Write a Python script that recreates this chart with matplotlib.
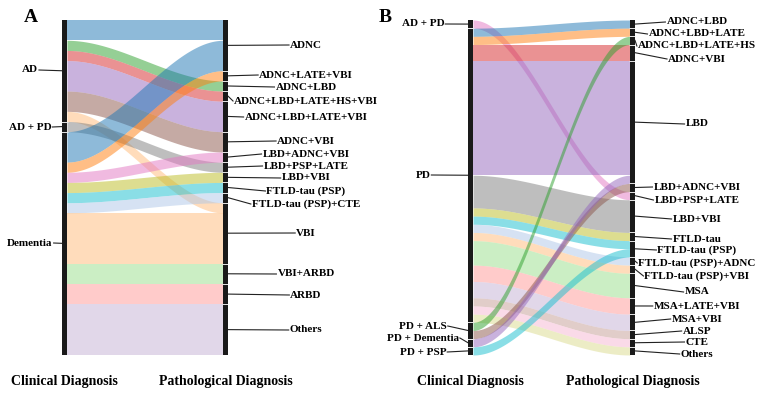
import numpy as np
import matplotlib.pyplot as plt
from matplotlib.patches import Rectangle

plt.rcParams['font.family'] = ['Liberation Serif', 'DejaVu Serif']
plt.rcParams['font.weight'] = 'bold'

# ---------------- panel A data
a_left = ['AD', 'AD + PD', 'Dementia']
a_right = ['ADNC', 'ADNC+LATE+VBI', 'ADNC+LBD', 'ADNC+LBD+LATE+HS+VBI',
           'ADNC+LBD+LATE+VBI', 'ADNC+VBI', 'LBD+ADNC+VBI', 'LBD+PSP+LATE',
           'LBD+VBI', 'FTLD-tau (PSP)', 'FTLD-tau (PSP)+CTE', 'VBI',
           'VBI+ARBD', 'ARBD', 'Others']
a_src = ['AD', 'AD', 'AD', 'AD', 'AD', 'AD',
         'AD + PD',
         'Dementia', 'Dementia', 'Dementia', 'Dementia', 'Dementia',
         'Dementia', 'Dementia', 'Dementia', 'Dementia', 'Dementia']
a_dst = ['ADNC', 'ADNC+LBD', 'ADNC+LBD+LATE+HS+VBI', 'ADNC+LBD+LATE+VBI', 'ADNC+VBI', 'VBI',
         'LBD+PSP+LATE',
         'ADNC', 'ADNC+LATE+VBI', 'LBD+ADNC+VBI', 'LBD+VBI', 'FTLD-tau (PSP)',
         'FTLD-tau (PSP)+CTE', 'VBI', 'VBI+ARBD', 'ARBD', 'Others']
a_n = [2, 1, 1, 3, 2, 1,
       1,
       3, 1, 1, 1, 1, 1, 5, 2, 2, 5]

# ---------------- panel B data
b_left = ['AD + PD', 'PD', 'PD + ALS', 'PD + Dementia', 'PD + PSP']
b_right = ['ADNC+LBD', 'ADNC+LBD+LATE', 'ADNC+LBD+LATE+HS', 'ADNC+VBI', 'LBD',
           'LBD+ADNC+VBI', 'LBD+PSP+LATE', 'LBD+VBI', 'FTLD-tau', 'FTLD-tau (PSP)',
           'FTLD-tau (PSP)+ADNC', 'FTLD-tau (PSP)+VBI', 'MSA', 'MSA+LATE+VBI',
           'MSA+VBI', 'ALSP', 'CTE', 'Others']
b_src = ['AD + PD',
         'PD', 'PD', 'PD', 'PD', 'PD', 'PD', 'PD', 'PD', 'PD', 'PD',
         'PD', 'PD', 'PD', 'PD', 'PD',
         'PD + ALS', 'PD + ALS',
         'PD + Dementia',
         'PD + PSP']
b_dst = ['LBD+PSP+LATE',
         'ADNC+LBD', 'ADNC+LBD+LATE', 'ADNC+VBI', 'LBD', 'LBD+VBI', 'FTLD-tau',
         'FTLD-tau (PSP)', 'FTLD-tau (PSP)+ADNC', 'FTLD-tau (PSP)+VBI', 'MSA',
         'MSA+LATE+VBI', 'MSA+VBI', 'ALSP', 'CTE', 'Others',
         'ADNC+LBD+LATE+HS', 'LBD+ADNC+VBI',
         'LBD',
         'FTLD-tau (PSP)']
b_n = [1,
       1, 1, 2, 14, 4, 1, 1, 1, 1, 3, 2, 2, 1, 1, 1,
       1, 1,
       1,
       1]

# label placement (pixel rows of the text, hand-spread so they don't collide)
a_left_lab_px = [70, 127, 243]
a_right_lab_px = [45, 75, 87, 101, 117, 141, 154, 166, 178, 191, 204, 233, 274, 295, 330]
b_left_lab_px = [24, 175, 326, 338, 352]
b_right_lab_px = [22, 34, 46, 59, 124, 187, 200, 219, 239, 250, 263, 276, 292, 306,
                  319, 331, 342, 354]

t10 = list(plt.get_cmap('tab10').colors)
t20 = plt.get_cmap('tab20').colors
palette = t10 + [t20[i] for i in (1, 3, 5, 7, 9, 11, 13, 17)]

W, H = 765, 394
TOP, BOT = 20, 355
BW = 0.03


def sankey(fig, ax, left, right, src, dst, n, lx, rx, lab_l, lab_r):
    total = sum(n)
    ax.set_xlim(0, 1)
    ax.set_ylim(total, 0)
    ax.axis('off')
    links = list(zip(src, dst, n))

    lpos, lnode = {}, {}
    y = 0
    for s in left:
        y0 = y
        for t in right:
            for k, (a, b, v) in enumerate(links):
                if a == s and b == t:
                    lpos[k] = (y, y + v)
                    y += v
        lnode[s] = (y0, y)
    rpos, rnode = {}, {}
    y = 0
    for t in right:
        y0 = y
        for s in left:
            for k, (a, b, v) in enumerate(links):
                if a == s and b == t:
                    rpos[k] = (y, y + v)
                    y += v
        rnode[t] = (y0, y)

    # smooth s-shaped ribbons
    xs = np.linspace(BW, 1 - BW, 200)
    tt = (xs - BW) / (1 - 2 * BW)
    sm = 3 * tt ** 2 - 2 * tt ** 3
    for k, (a, b, v) in enumerate(links):
        c = palette[right.index(b)]
        l0, l1 = lpos[k]
        r0, r1 = rpos[k]
        ax.fill_between(xs, l0 + (r0 - l0) * sm, l1 + (r1 - l1) * sm,
                        color=c, alpha=0.5, lw=0)

    for x0, nodes in ((0, lnode), (1 - BW, rnode)):
        ax.add_patch(Rectangle((x0, 0), BW, total, color='#1a1a1a', lw=0, zorder=3))
        for (y0, y1) in nodes.values():
            if y0 > 0:
                ax.plot([x0 - 0.004, x0 + BW + 0.004], [y0, y0], color='#e8e8e8',
                        lw=0.7, zorder=4, solid_capstyle='butt')

    to_data = lambda p: (p - TOP) / (BOT - TOP) * total
    lc = [(lnode[s][0] + lnode[s][1]) / 2 for s in left]
    rc = [(rnode[t][0] + rnode[t][1]) / 2 for t in right]
    ly = [to_data(p) for p in lab_l]
    ry = [to_data(p) for p in lab_r]

    ltx = [ax.text(lx, y, s, ha='center', va='center', fontsize=8, clip_on=False)
           for s, y in zip(left, ly)]
    rtx = [ax.text(rx, y, t, ha='center', va='center', fontsize=8, clip_on=False)
           for t, y in zip(right, ry)]
    fig.canvas.draw()
    r = fig.canvas.get_renderer()
    inv = ax.transData.inverted()
    for txt, c, y in zip(ltx, lc, ly):
        bb = txt.get_window_extent(r)
        x1 = inv.transform((bb.x1 + 1, 0))[0]
        ax.plot([x1, 0], [y, c], color='#222222', lw=0.8, clip_on=False)
    for txt, c, y in zip(rtx, rc, ry):
        bb = txt.get_window_extent(r)
        x0 = inv.transform((bb.x0 - 1, 0))[0]
        ax.plot([1, x0], [c, y], color='#222222', lw=0.8, clip_on=False)

    ty = -26 / (BOT - TOP)
    ax.text(BW / 2, ty, 'Clinical Diagnosis', transform=ax.transAxes,
            ha='center', va='center', fontsize=10)
    ax.text(1 - BW / 2, ty, 'Pathological Diagnosis', transform=ax.transAxes,
            ha='center', va='center', fontsize=10)


fig = plt.figure(figsize=(W / 100, H / 100), dpi=100)
ax_a = fig.add_axes([62 / W, (H - BOT) / H, 166 / W, (BOT - TOP) / H])
ax_b = fig.add_axes([468 / W, (H - BOT) / H, 167 / W, (BOT - TOP) / H])

sankey(fig, ax_a, a_left, a_right, a_src, a_dst, a_n, -0.193, 1.47,
       a_left_lab_px, a_right_lab_px)
sankey(fig, ax_b, b_left, b_right, b_src, b_dst, b_n, -0.27, 1.371,
       b_left_lab_px, b_right_lab_px)

fig.text(30.5 / W, 1 - 18 / H, 'A', ha='center', va='center', fontsize=14)
fig.text(385 / W, 1 - 18 / H, 'B', ha='center', va='center', fontsize=14)

fig.savefig('out.png', dpi=100)
